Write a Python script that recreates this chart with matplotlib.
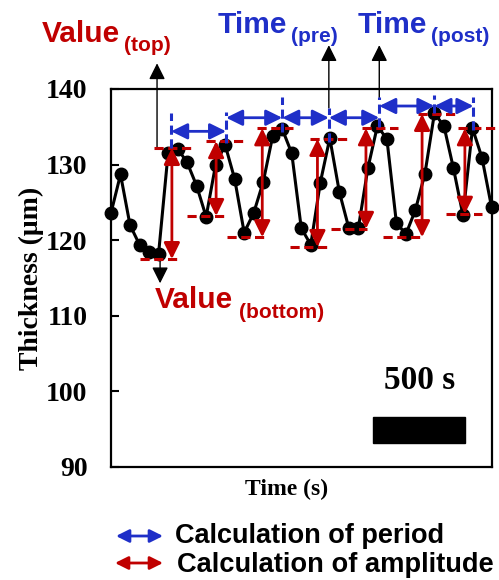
import matplotlib
matplotlib.use("Agg")
import matplotlib.pyplot as plt
from matplotlib.patches import Rectangle, FancyArrowPatch

# ---------------- data ----------------
thickness = [123.6, 128.7, 122.0, 119.4, 118.5, 118.2, 131.5, 132.1, 130.3, 127.2,
             123.1, 130.0, 132.6, 128.1, 121.0, 123.6, 127.7, 133.8, 134.7, 131.5,
             121.6, 119.4, 127.6, 133.5, 126.4, 121.6, 121.6, 129.5, 135.1, 133.4,
             122.3, 120.8, 124.0, 128.8, 136.8, 135.1, 129.5, 123.3, 134.8, 130.9,
             124.4]
time_idx = list(range(len(thickness)))

# amplitude markers (red)
amp_x = [6.4, 11.05, 15.9, 21.7, 26.8, 32.7, 37.2]
amp_top = [132.2, 133.1, 134.8, 133.4, 134.8, 136.7, 134.8]
amp_bottom = [117.5, 123.2, 120.4, 119.1, 121.5, 120.4, 123.5]
top_line_start = [4.53, 10.0, 15.37, 20.95, 26.4, 32.3, 36.5]
top_line_end = [8.53, 13.9, 19.16, 24.84, 30.2, 36.2, 40.4]
bot_line_start = [3.05, 8.0, 12.2, 18.84, 23.16, 28.6, 35.2]
bot_line_end = [6.95, 12.0, 16.1, 22.74, 26.95, 32.7, 39.05]

# period markers (blue)
peak_x = [6.32, 12.1, 18.0, 22.9, 28.2, 34.0, 38.1]
peak_line_top = [136.8, 137.0, 138.9, 137.5, 138.9, 139.2, 138.9]
peak_line_bottom = [132.2, 132.9, 134.3, 133.0, 135.0, 136.8, 134.6]
period_arrow_y = [134.4, 136.2, 136.2, 136.2, 137.75, 137.75]

# scale bar (500 s = 10 samples)
scale_start = 27.5
scale_len = 9.7
scale_text = "500 s"

yticks = [90, 100, 110, 120, 130, 140]

# ---------------- style ----------------
RED = "#C00000"
BLUE = "#1F2FC8"
SANS = "Liberation Sans"
SERIF = "Liberation Serif"
W, H = 499, 580

fig = plt.figure(figsize=(W / 100, H / 100), dpi=100)
ax = fig.add_axes([111 / W, 1 - 467 / H, (492 - 111) / W, (467 - 89) / H])

def fx(px):
    return px / W

def fy(py):
    return 1 - py / H

ax.plot(time_idx, thickness, color="black", lw=2.2, marker="o", ms=9, zorder=3,
        clip_on=False)

ax.set_xlim(0, 40.05)
ax.set_ylim(90, 140)
ax.set_xticks([])
ax.set_yticks(yticks)
ax.set_yticklabels([str(t) for t in yticks], fontfamily=SERIF, fontweight="bold",
                   fontsize=20)
ax.tick_params(axis="y", direction="in", length=6, width=1.5, pad=17)
for s in ax.spines.values():
    s.set_linewidth(1.6)

ax.set_ylabel("Thickness (\u03bcm)", fontfamily=SERIF, fontweight="bold", fontsize=20,
              labelpad=1)
fig.text(fx(287), fy(495), "Time (s)", fontfamily=SERIF, fontweight="bold",
         fontsize=17, ha="center", va="baseline")

# red amplitude markers
dash = (3, 1.5)
for i in range(len(amp_x)):
    ax.plot([top_line_start[i], top_line_end[i]], [amp_top[i]] * 2, color=RED, lw=2.2,
            dashes=dash, clip_on=False, zorder=4)
    ax.plot([bot_line_start[i], bot_line_end[i]], [amp_bottom[i]] * 2, color=RED,
            lw=2.2, dashes=dash, clip_on=False, zorder=4)
    ax.annotate("", xy=(amp_x[i], amp_top[i]), xytext=(amp_x[i], amp_bottom[i]),
                arrowprops=dict(arrowstyle="<|-|>,head_length=0.65,head_width=0.32",
                                color=RED, lw=2, mutation_scale=15, shrinkA=0,
                                shrinkB=0), zorder=5, annotation_clip=False)

# blue period markers
for i in range(len(peak_x)):
    ax.plot([peak_x[i]] * 2, [peak_line_bottom[i], peak_line_top[i]], color=BLUE,
            lw=2.2, dashes=dash, clip_on=False, zorder=6)
for i in range(len(period_arrow_y)):
    ax.annotate("", xy=(peak_x[i + 1], period_arrow_y[i]),
                xytext=(peak_x[i], period_arrow_y[i]),
                arrowprops=dict(arrowstyle="<|-|>,head_length=0.65,head_width=0.32",
                                color=BLUE, lw=2, mutation_scale=15, shrinkA=0,
                                shrinkB=0), zorder=6, annotation_clip=False)

# black pointer arrows
black_arrow = dict(arrowstyle="-|>,head_length=0.7,head_width=0.35", color="black",
                   lw=1, mutation_scale=14, shrinkA=0, shrinkB=0)
ax.annotate("", xy=(4.84, 143.4), xytext=(4.84, amp_top[0]), arrowprops=black_arrow,
            annotation_clip=False)
ax.annotate("", xy=(peak_x[3], 145.8), xytext=(peak_x[3], peak_line_top[3]),
            arrowprops=black_arrow, annotation_clip=False)
ax.annotate("", xy=(peak_x[4], 145.8), xytext=(peak_x[4], peak_line_top[4]),
            arrowprops=black_arrow, annotation_clip=False)
ax.annotate("", xy=(5.16, 114.3), xytext=(5.16, amp_bottom[0]), arrowprops=black_arrow,
            annotation_clip=False)

# labels
def lab(px, py, main, sub, color, spx, spy):
    fig.text(fx(px), fy(py), main, color=color, fontfamily=SANS, fontweight="bold",
             fontsize=21.5, ha="left", va="baseline")
    fig.text(fx(spx), fy(spy), sub, color=color, fontfamily=SANS, fontweight="bold",
             fontsize=15, ha="left", va="baseline")

lab(42, 42, "Value", "(top)", RED, 124, 51)
lab(218, 33, "Time", "(pre)", BLUE, 291, 41.5)
lab(358, 33, "Time", "(post)", BLUE, 431, 41.5)
lab(155, 308, "Value", "(bottom)", RED, 239, 318)

# scale bar
ax.add_patch(Rectangle((scale_start, 93.2), scale_len, 3.4, color="black", zorder=3))
ax.text(scale_start + scale_len / 2 + 0.1, 100.3, scale_text, fontfamily=SERIF,
        fontweight="bold", fontsize=24, ha="center", va="baseline")

# legend
leg_arrow = dict(arrowstyle="<|-|>,head_length=0.6,head_width=0.3", lw=2,
                 mutation_scale=13, shrinkA=0, shrinkB=0)
fig.add_artist(FancyArrowPatch((fx(116), fy(536)), (fx(163), fy(536)),
               transform=fig.transFigure, color=BLUE, **leg_arrow))
fig.add_artist(FancyArrowPatch((fx(115), fy(563)), (fx(163), fy(563)),
               transform=fig.transFigure, color=RED, **leg_arrow))
fig.text(fx(175), fy(543), "Calculation of period", fontfamily=SANS, fontweight="bold",
         fontsize=19.5, ha="left", va="baseline")
fig.text(fx(177), fy(572), "Calculation of amplitude", fontfamily=SANS,
         fontweight="bold", fontsize=19.6, ha="left", va="baseline")

fig.savefig("out.png", dpi=100)
